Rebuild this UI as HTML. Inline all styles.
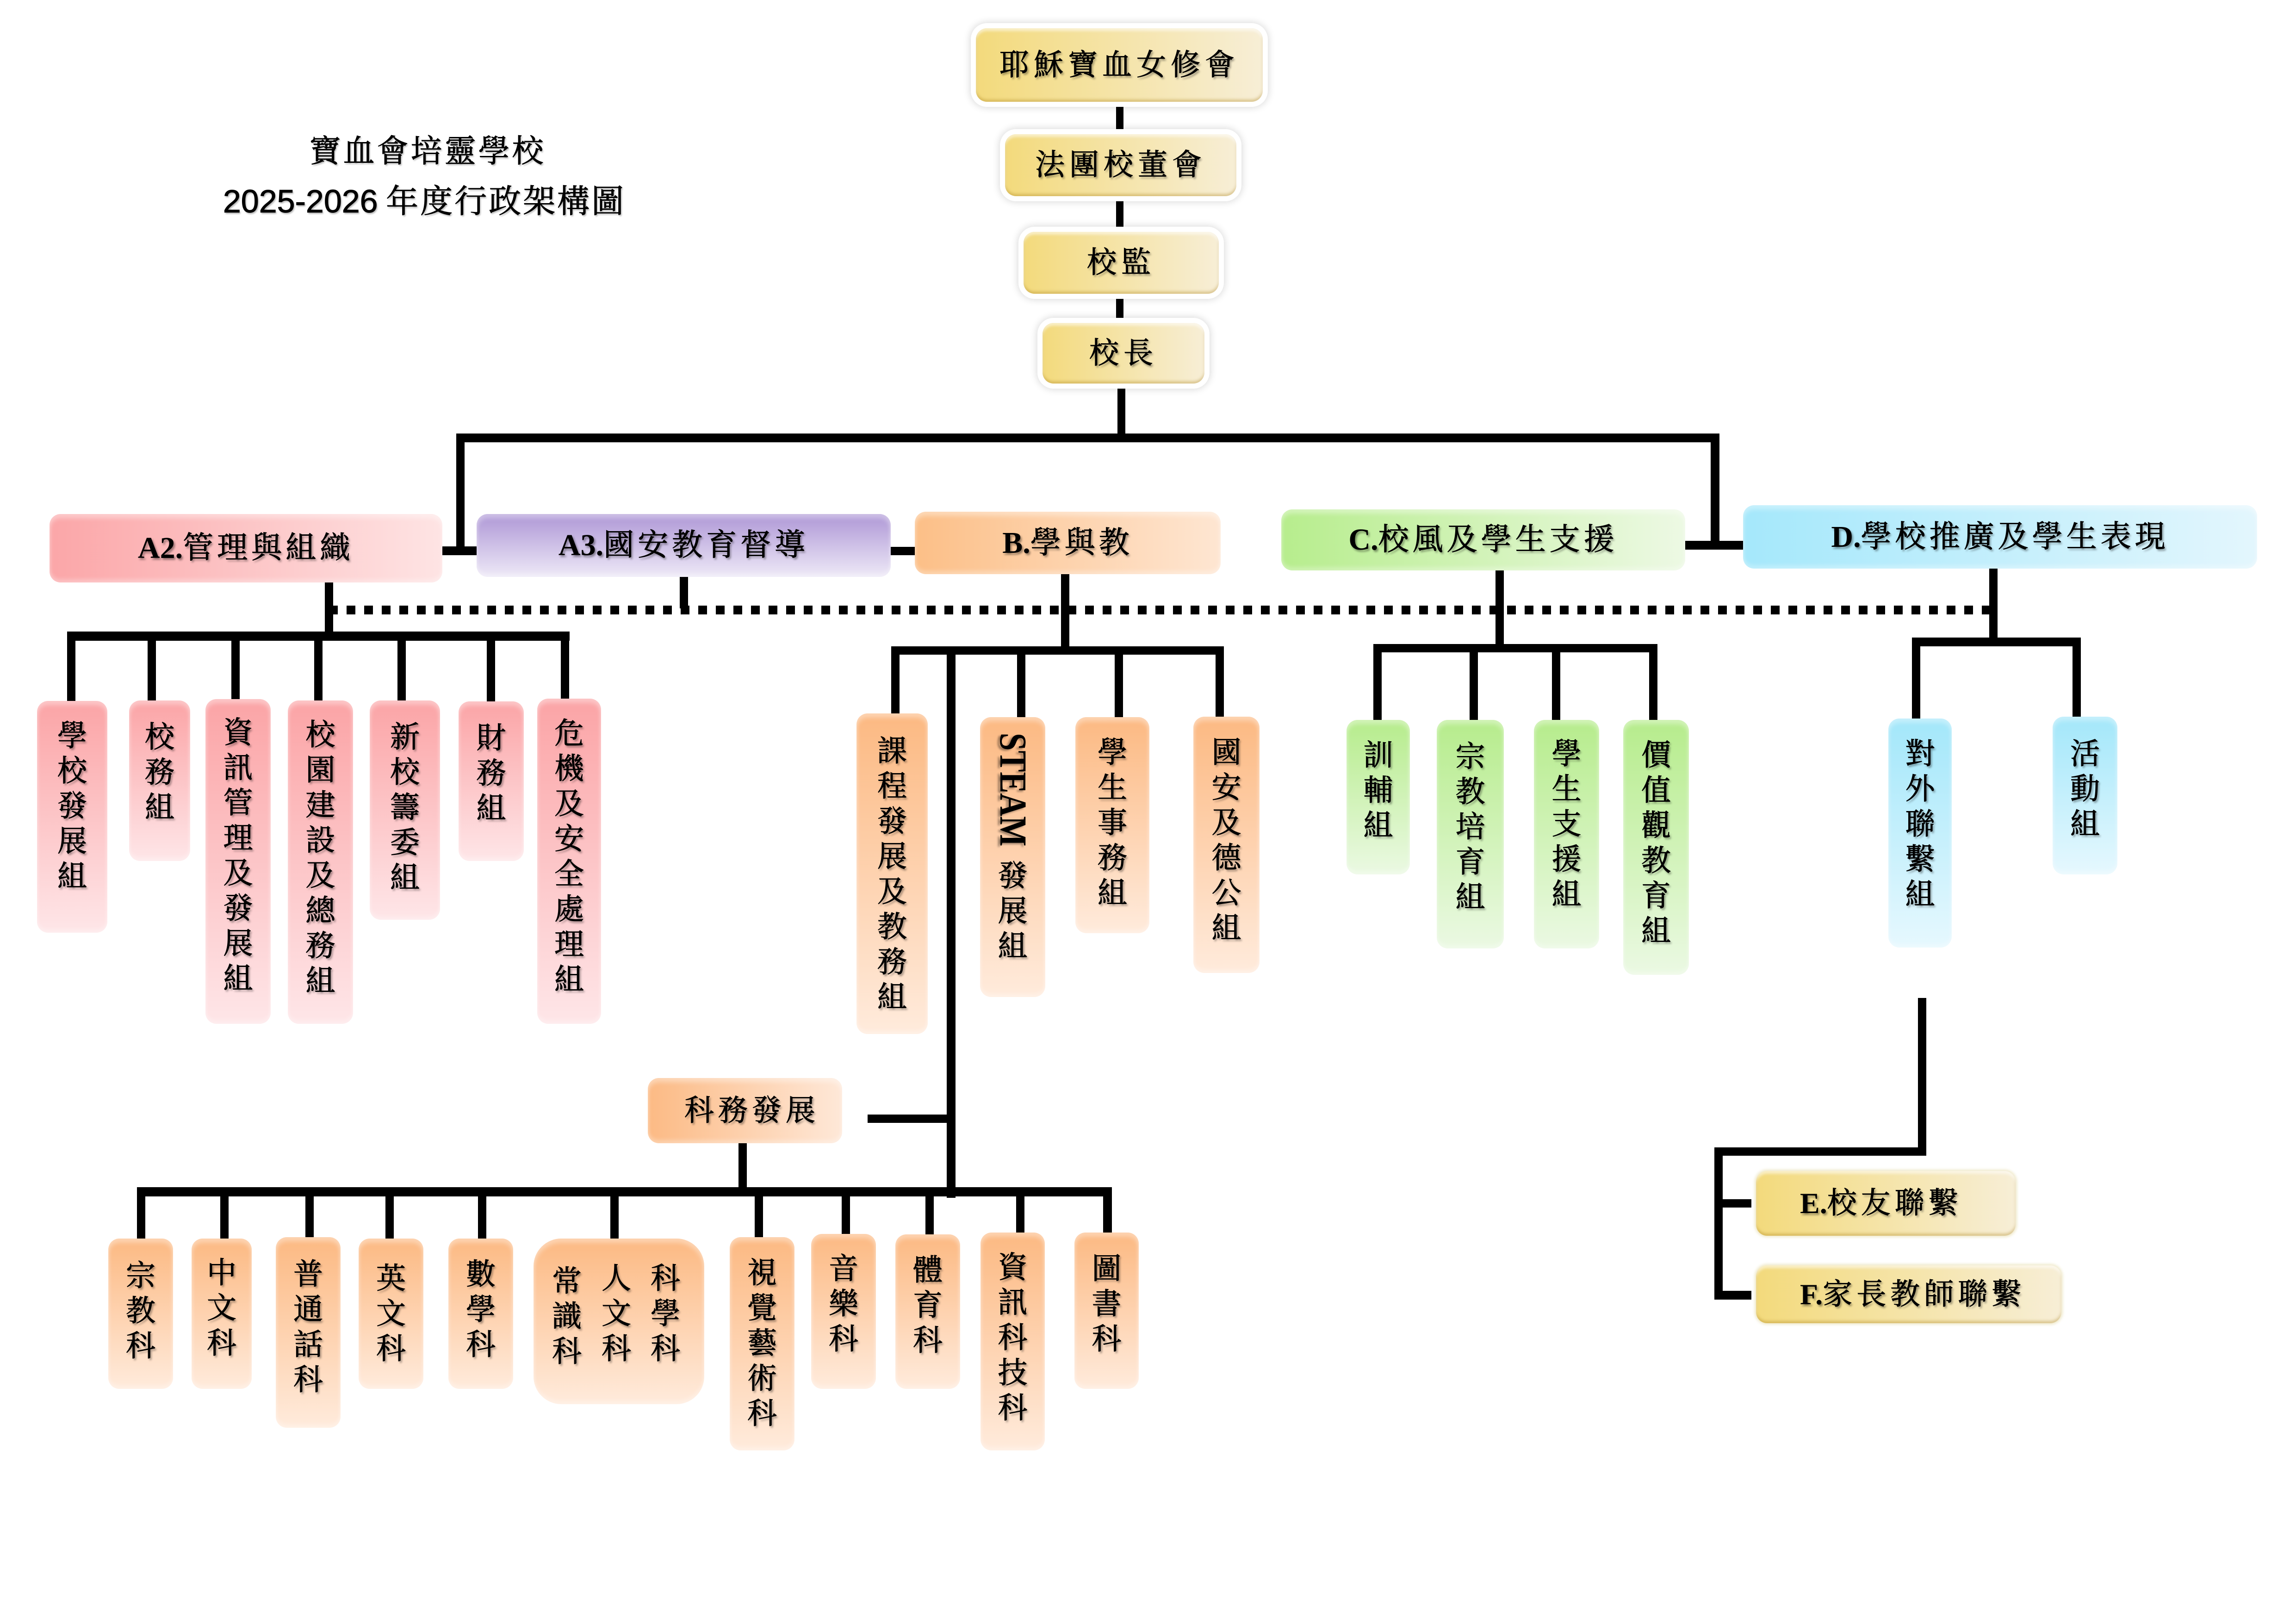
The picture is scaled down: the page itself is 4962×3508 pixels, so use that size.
<!DOCTYPE html>
<html>
<head>
<meta charset="utf-8">
<style>
html,body{margin:0;padding:0;}
body{width:4962px;height:3508px;background:#fff;position:relative;overflow:hidden;
  font-family:"Liberation Serif","Noto Serif CJK SC",serif;color:#000;}
.l{position:absolute;background:#000;}
.b{position:absolute;box-sizing:border-box;border-radius:24px;color:#000;
  -webkit-text-stroke:1px #000;
  text-shadow:3px 4px 4px rgba(0,0,0,.4);
  box-shadow:inset 0 9px 10px rgba(255,255,255,.38), inset 0 -7px 9px rgba(255,255,255,.3);}
.h{display:flex;align-items:center;justify-content:center;font-size:66px;letter-spacing:8px;line-height:1;white-space:nowrap;}
.h b{font-family:"Liberation Serif",serif;font-weight:bold;letter-spacing:0;-webkit-text-stroke:0;}
.v{font-size:64px;line-height:76px;text-align:center;}
.y{background:linear-gradient(90deg,#F3DA7C,#F7EED6);
  box-shadow:0 0 0 11px #fff,0 0 16px 12px rgba(0,0,0,.16),inset 0 6px 6px rgba(255,255,255,.55),inset 0 -5px 6px rgba(170,130,30,.35);
  font-size:64px;letter-spacing:10px;}
.ye{background:linear-gradient(90deg,#F3DA7C,#F7EED6);
  box-shadow:0 0 6px 3px rgba(230,220,170,.6),inset 0 6px 6px rgba(255,255,255,.55),inset 0 -5px 6px rgba(170,130,30,.35);}
.pkh{background:linear-gradient(90deg,#FBA6A8,#FEE4E4);}
.puh{background:linear-gradient(180deg,#AE97D6,#EEE9F7);}
.orh{background:linear-gradient(90deg,#FCBF87,#FEE6D2);}
.grh{background:linear-gradient(90deg,#B7ED8D,#EDF9E4);}
.blh{background:linear-gradient(90deg,#A5E8FB,#E3F6FD);}
.pk{background:linear-gradient(180deg,#FBA4A6,#FEE6E8);}
.or{background:linear-gradient(180deg,#FCB982,#FFEBDC);}
.gr{background:linear-gradient(180deg,#B6EC8C,#EBF9E3);}
.bl{background:linear-gradient(180deg,#A3E7FA,#E6F8FE);}
.col{position:absolute;width:90px;font-size:64px;line-height:76px;text-align:center;}
.t{position:absolute;text-align:center;white-space:nowrap;text-shadow:2px 3px 3px rgba(0,0,0,.3);-webkit-text-stroke:1px #000;}
</style>
</head>
<body>

<!-- Title -->
<div class="t" style="left:0;width:1848px;top:289px;font-size:68px;letter-spacing:5px;line-height:76px;">寶血會培靈學校</div>
<div class="t" style="left:0;width:1834px;top:397px;font-size:70px;line-height:76px;"><span style="font-family:'Liberation Sans',sans-serif;">2025-2026</span> <span style="letter-spacing:4px;">年度行政架構圖</span></div>

<!-- ===== Lines ===== -->
<div class="l" style="left:2412px;top:215px;width:16px;height:80px;"></div>
<div class="l" style="left:2412px;top:420px;width:16px;height:85px;"></div>
<div class="l" style="left:2412px;top:630px;width:16px;height:72px;"></div>
<div class="l" style="left:2415px;top:825px;width:17px;height:125px;"></div>
<div class="l" style="left:986px;top:937px;width:2730px;height:19px;"></div>
<div class="l" style="left:986px;top:937px;width:18px;height:263px;"></div>
<div class="l" style="left:950px;top:1181px;width:86px;height:19px;"></div>
<div class="l" style="left:1920px;top:1182px;width:62px;height:18px;"></div>
<div class="l" style="left:3697px;top:937px;width:19px;height:251px;"></div>
<div class="l" style="left:3638px;top:1169px;width:133px;height:19px;"></div>

<div class="l" style="left:711px;top:1309px;width:3592px;height:19px;background:repeating-linear-gradient(90deg,#000 0 19px,transparent 19px 38px);"></div>

<div class="l" style="left:702px;top:1255px;width:18px;height:130px;"></div>
<div class="l" style="left:145px;top:1365px;width:1086px;height:20px;"></div>
<div class="l" style="left:145px;top:1365px;width:18px;height:155px;"></div>
<div class="l" style="left:319px;top:1365px;width:18px;height:155px;"></div>
<div class="l" style="left:500px;top:1365px;width:18px;height:155px;"></div>
<div class="l" style="left:679px;top:1365px;width:18px;height:155px;"></div>
<div class="l" style="left:859px;top:1365px;width:18px;height:155px;"></div>
<div class="l" style="left:1052px;top:1365px;width:18px;height:155px;"></div>
<div class="l" style="left:1212px;top:1365px;width:18px;height:155px;"></div>

<div class="l" style="left:1469px;top:1243px;width:18px;height:72px;"></div>

<div class="l" style="left:2293px;top:1238px;width:18px;height:177px;"></div>
<div class="l" style="left:1926px;top:1397px;width:719px;height:18px;"></div>
<div class="l" style="left:1926px;top:1397px;width:18px;height:150px;"></div>
<div class="l" style="left:2046px;top:1397px;width:19px;height:1192px;"></div>
<div class="l" style="left:2198px;top:1397px;width:18px;height:158px;"></div>
<div class="l" style="left:2409px;top:1397px;width:18px;height:158px;"></div>
<div class="l" style="left:2627px;top:1397px;width:18px;height:158px;"></div>

<div class="l" style="left:3232px;top:1230px;width:18px;height:180px;"></div>
<div class="l" style="left:2968px;top:1392px;width:614px;height:18px;"></div>
<div class="l" style="left:2968px;top:1392px;width:18px;height:168px;"></div>
<div class="l" style="left:3176px;top:1392px;width:18px;height:168px;"></div>
<div class="l" style="left:3354px;top:1392px;width:18px;height:168px;"></div>
<div class="l" style="left:3564px;top:1392px;width:18px;height:168px;"></div>

<div class="l" style="left:4299px;top:1226px;width:18px;height:171px;"></div>
<div class="l" style="left:4132px;top:1378px;width:365px;height:19px;"></div>
<div class="l" style="left:4132px;top:1378px;width:18px;height:180px;"></div>
<div class="l" style="left:4479px;top:1378px;width:18px;height:176px;"></div>

<div class="l" style="left:4145px;top:2157px;width:18px;height:341px;"></div>
<div class="l" style="left:3705px;top:2480px;width:458px;height:18px;"></div>
<div class="l" style="left:3705px;top:2480px;width:18px;height:320px;"></div>
<div class="l" style="left:3705px;top:2592px;width:80px;height:18px;"></div>
<div class="l" style="left:3705px;top:2790px;width:80px;height:19px;"></div>

<div class="l" style="left:1875px;top:2409px;width:185px;height:18px;"></div>
<div class="l" style="left:1596px;top:2468px;width:18px;height:100px;"></div>
<div class="l" style="left:296px;top:2566px;width:2107px;height:20px;"></div>
<div class="l" style="left:296px;top:2566px;width:18px;height:115px;"></div>
<div class="l" style="left:476px;top:2566px;width:18px;height:115px;"></div>
<div class="l" style="left:660px;top:2566px;width:18px;height:112px;"></div>
<div class="l" style="left:833px;top:2566px;width:18px;height:115px;"></div>
<div class="l" style="left:1033px;top:2566px;width:18px;height:115px;"></div>
<div class="l" style="left:1319px;top:2566px;width:18px;height:115px;"></div>
<div class="l" style="left:1631px;top:2566px;width:18px;height:112px;"></div>
<div class="l" style="left:1819px;top:2566px;width:18px;height:105px;"></div>
<div class="l" style="left:2000px;top:2566px;width:18px;height:106px;"></div>
<div class="l" style="left:2196px;top:2566px;width:18px;height:102px;"></div>
<div class="l" style="left:2384px;top:2566px;width:19px;height:102px;"></div>

<!-- ===== Top yellow boxes ===== -->
<div class="b y h" style="left:2109px;top:61px;width:620px;height:159px;font-size:64px;letter-spacing:10px;">耶穌寶血女修會</div>
<div class="b y h" style="left:2172px;top:290px;width:500px;height:134px;font-size:64px;letter-spacing:10px;">法團校董會</div>
<div class="b y h" style="left:2212px;top:501px;width:422px;height:134px;font-size:64px;letter-spacing:10px;">校監</div>
<div class="b y h" style="left:2253px;top:698px;width:350px;height:131px;font-size:64px;letter-spacing:10px;">校長</div>

<!-- ===== Category boxes ===== -->
<div class="b h pkh" style="left:107px;top:1111px;width:849px;height:148px;"><b>A2.</b>管理與組織</div>
<div class="b h puh" style="left:1030px;top:1111px;width:895px;height:136px;"><b>A3.</b>國安教育督導</div>
<div class="b h orh" style="left:1977px;top:1106px;width:661px;height:135px;"><b>B.</b>學與教</div>
<div class="b h grh" style="left:2769px;top:1101px;width:873px;height:132px;"><b>C.</b>校風及學生支援</div>
<div class="b h blh" style="left:3767px;top:1092px;width:1111px;height:137px;"><b>D.</b>學校推廣及學生表現</div>

<!-- ===== A2 children ===== -->
<div class="b v pk" style="left:80px;top:1515px;width:152px;height:501px;padding-top:38px;">學<br>校<br>發<br>展<br>組</div>
<div class="b v pk" style="left:279px;top:1514px;width:132px;height:347px;padding-top:42px;">校<br>務<br>組</div>
<div class="b v pk" style="left:444px;top:1511px;width:141px;height:702px;padding-top:35px;">資<br>訊<br>管<br>理<br>及<br>發<br>展<br>組</div>
<div class="b v pk" style="left:622px;top:1514px;width:141px;height:699px;padding-top:37px;">校<br>園<br>建<br>設<br>及<br>總<br>務<br>組</div>
<div class="b v pk" style="left:799px;top:1514px;width:152px;height:474px;padding-top:42px;">新<br>校<br>籌<br>委<br>組</div>
<div class="b v pk" style="left:991px;top:1516px;width:141px;height:345px;padding-top:42px;">財<br>務<br>組</div>
<div class="b v pk" style="left:1161px;top:1510px;width:138px;height:703px;padding-top:38px;">危<br>機<br>及<br>安<br>全<br>處<br>理<br>組</div>

<!-- ===== B children ===== -->
<div class="b v or" style="left:1851px;top:1542px;width:154px;height:693px;padding-top:44px;">課<br>程<br>發<br>展<br>及<br>教<br>務<br>組</div>
<div class="b v or" style="left:2118px;top:1550px;width:141px;height:605px;padding-top:306px;">
  <div style="position:absolute;left:50%;top:34px;transform:translateX(-50%) scaleX(1.2);writing-mode:vertical-rl;font-family:'Liberation Serif',serif;font-weight:bold;font-size:69px;line-height:1;letter-spacing:0;-webkit-text-stroke:0;">STEAM</div>發<br>展<br>組</div>
<div class="b v or" style="left:2324px;top:1550px;width:160px;height:467px;padding-top:39px;">學<br>生<br>事<br>務<br>組</div>
<div class="b v or" style="left:2579px;top:1549px;width:143px;height:554px;padding-top:40px;">國<br>安<br>及<br>德<br>公<br>組</div>

<!-- ===== C children ===== -->
<div class="b v gr" style="left:2910px;top:1556px;width:137px;height:334px;padding-top:39px;">訓<br>輔<br>組</div>
<div class="b v gr" style="left:3105px;top:1556px;width:145px;height:494px;padding-top:42px;">宗<br>教<br>培<br>育<br>組</div>
<div class="b v gr" style="left:3315px;top:1556px;width:141px;height:494px;padding-top:36px;">學<br>生<br>支<br>援<br>組</div>
<div class="b v gr" style="left:3508px;top:1556px;width:142px;height:551px;padding-top:39px;">價<br>值<br>觀<br>教<br>育<br>組</div>

<!-- ===== D children ===== -->
<div class="b v bl" style="left:4081px;top:1553px;width:137px;height:495px;padding-top:39px;">對<br>外<br>聯<br>繫<br>組</div>
<div class="b v bl" style="left:4436px;top:1549px;width:140px;height:341px;padding-top:43px;">活<br>動<br>組</div>

<!-- ===== E / F ===== -->
<div class="b ye h" style="left:3795px;top:2531px;width:561px;height:140px;justify-content:flex-start;padding-left:95px;font-size:64px;letter-spacing:9px;"><b>E.</b>校友聯繫</div>
<div class="b ye h" style="left:3795px;top:2735px;width:660px;height:125px;justify-content:flex-start;padding-left:95px;font-size:64px;letter-spacing:9px;"><b>F.</b>家長教師聯繫</div>

<!-- ===== 科務發展 ===== -->
<div class="b h" style="left:1400px;top:2330px;width:420px;height:141px;background:linear-gradient(90deg,#FCBA84,#FEE8D8);font-size:64px;letter-spacing:9px;padding-left:30px;">科務發展</div>

<!-- ===== Subject boxes ===== -->
<div class="b v or" style="left:234px;top:2677px;width:140px;height:325px;padding-top:43px;">宗<br>教<br>科</div>
<div class="b v or" style="left:414px;top:2677px;width:130px;height:325px;padding-top:37px;">中<br>文<br>科</div>
<div class="b v or" style="left:596px;top:2674px;width:140px;height:412px;padding-top:43px;">普<br>通<br>話<br>科</div>
<div class="b v or" style="left:775px;top:2677px;width:140px;height:325px;padding-top:49px;">英<br>文<br>科</div>
<div class="b v or" style="left:969px;top:2677px;width:140px;height:325px;padding-top:40px;">數<br>學<br>科</div>
<div class="b or" style="left:1153px;top:2677px;width:369px;height:358px;border-radius:60px;">
  <div class="col" style="left:27px;top:55px;">常<br>識<br>科</div>
  <div class="col" style="left:134px;top:49px;">人<br>文<br>科</div>
  <div class="col" style="left:240px;top:49px;">科<br>學<br>科</div>
</div>
<div class="b v or" style="left:1577px;top:2674px;width:140px;height:461px;padding-top:40px;">視<br>覺<br>藝<br>術<br>科</div>
<div class="b v or" style="left:1753px;top:2667px;width:140px;height:335px;padding-top:38px;">音<br>樂<br>科</div>
<div class="b v or" style="left:1935px;top:2668px;width:140px;height:334px;padding-top:40px;">體<br>育<br>科</div>
<div class="b v or" style="left:2119px;top:2664px;width:139px;height:471px;padding-top:38px;">資<br>訊<br>科<br>技<br>科</div>
<div class="b v or" style="left:2322px;top:2664px;width:139px;height:338px;padding-top:41px;">圖<br>書<br>科</div>

</body>
</html>
